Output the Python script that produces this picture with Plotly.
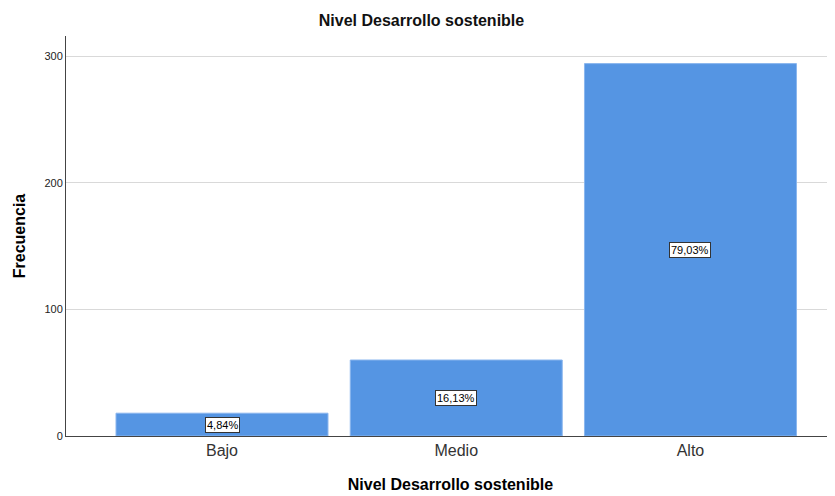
import plotly.graph_objects as go

categories = ["Bajo", "Medio", "Alto"]
frequencies = [18, 60, 294]
percent_labels = ["4,84%", "16,13%", "79,03%"]
y_ticks = [0, 100, 200, 300]

xpos = list(range(len(categories)))
FONT = "Liberation Sans, Arial, sans-serif"

fig = go.Figure()
fig.add_trace(go.Bar(
    x=xpos, y=frequencies, width=0.905,
    marker=dict(color="#5595E3", line=dict(color="#8AB6EE", width=1)),
    hoverinfo="skip",
))

for x, v, lab in zip(xpos, frequencies, percent_labels):
    fig.add_annotation(
        x=x, y=v / 2, text=lab, showarrow=False,
        font=dict(family=FONT, size=11, color="#000000"),
        bgcolor="white", bordercolor="#333333", borderwidth=1, borderpad=1,
    )

# page body has an 8px default margin; size the figure to end at the window edge
fig.update_layout(
    width=827, height=488,
    margin=dict(l=58, r=0, t=28, b=60),
    paper_bgcolor="white", plot_bgcolor="white",
    showlegend=False,
    font=dict(family=FONT, color="#000000"),
    title=dict(text="<b>Nivel Desarrollo sostenible</b>", x=0.5, xanchor="center",
               y=0.975, yanchor="middle", font=dict(size=16, color="#111111")),
)
fig.update_xaxes(
    range=[-0.666, 2.617], tickvals=xpos, ticktext=categories,
    showgrid=False, zeroline=False,
    showline=True, linecolor="#444444", linewidth=1,
    ticks="", tickfont=dict(size=16, color="#333333"),
    title=dict(text="<b>Nivel Desarrollo sostenible</b>", font=dict(size=16, color="#000000"), standoff=20),
)
fig.update_yaxes(
    range=[0, 315.8], tickvals=y_ticks,
    showgrid=True, gridcolor="#D9D9D9", gridwidth=1, zeroline=False,
    showline=True, linecolor="#444444", linewidth=1,
    ticks="", tickfont=dict(size=11, color="#222222"),
    title=dict(text="<b>Frecuencia</b>", font=dict(size=16, color="#000000"), standoff=14),
)

fig.write_html("out.html")
